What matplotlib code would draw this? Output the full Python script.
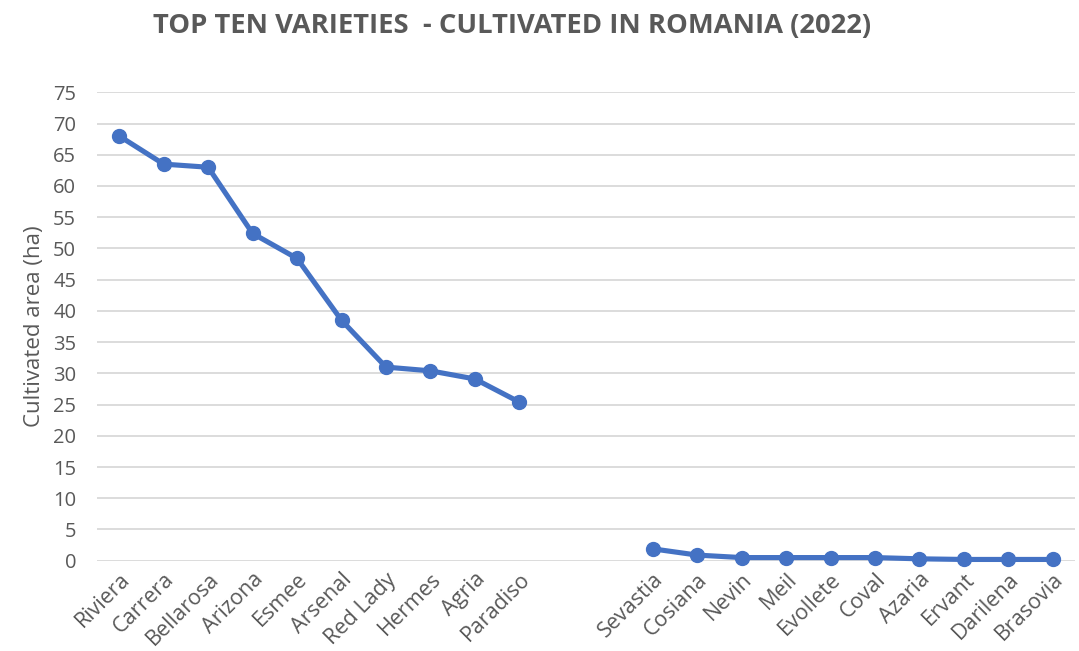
import numpy as np
import matplotlib
matplotlib.use("Agg")
import matplotlib.pyplot as plt

top_varieties = ["Riviera", "Carrera", "Bellarosa", "Arizona", "Esmee", "Arsenal",
                 "Red Lady", "Hermes", "Agria", "Paradiso"]
top_values = [68.0, 63.5, 63.0, 52.4, 48.4, 38.5, 31.0, 30.4, 29.1, 25.4]
low_varieties = ["Sevastia", "Cosiana", "Nevin", "Meil", "Evollete", "Coval",
                 "Azaria", "Ervant", "Darilena", "Brasovia"]
low_values = [1.9, 0.9, 0.5, 0.5, 0.5, 0.5, 0.3, 0.2, 0.2, 0.2]
gap_count = 2
y_ticks = list(range(0, 80, 5))

labels = top_varieties + [""] * gap_count + low_varieties
values = top_values + [np.nan] * gap_count + low_values
x = np.arange(len(labels))

plt.rcParams['font.family'] = ['Open Sans', 'DejaVu Sans']
fig = plt.figure(figsize=(10.79, 6.51), dpi=100)
ax = fig.add_axes([97/1079, 1 - 560.7/651, (1075-97)/1079, (560.7-92.3)/651])

color = "#4472C4"
ax.plot(x, values, color=color, lw=3.7, marker='o', markersize=10, clip_on=False, zorder=3)

ax.set_xlim(-0.5, len(labels) - 0.5)
ax.set_ylim(0, 75)
ax.set_yticks(y_ticks)
ax.yaxis.grid(True, color="#D9D9D9", lw=1.3)
ax.set_axisbelow(True)
for s in ax.spines.values():
    s.set_visible(False)
ax.tick_params(axis='both', length=0, labelcolor="#595959")
ax.tick_params(axis='y', labelsize=14.5, pad=15)
ax.set_xticks(x)
ax.set_xticklabels(labels, rotation=45, ha='right', va='top', rotation_mode='anchor')
ax.tick_params(axis='x', labelsize=15.5, pad=6)
ax.set_ylabel("Cultivated area (ha)", fontsize=16, color="#595959", labelpad=6)

fig.text(512/1079, 1 - 26/651, "TOP TEN VARIETIES  - CULTIVATED IN ROMANIA (2022)",
         ha='center', va='center', fontsize=19.7, fontweight='bold', color="#595959")

fig.savefig("out.png", dpi=100)
